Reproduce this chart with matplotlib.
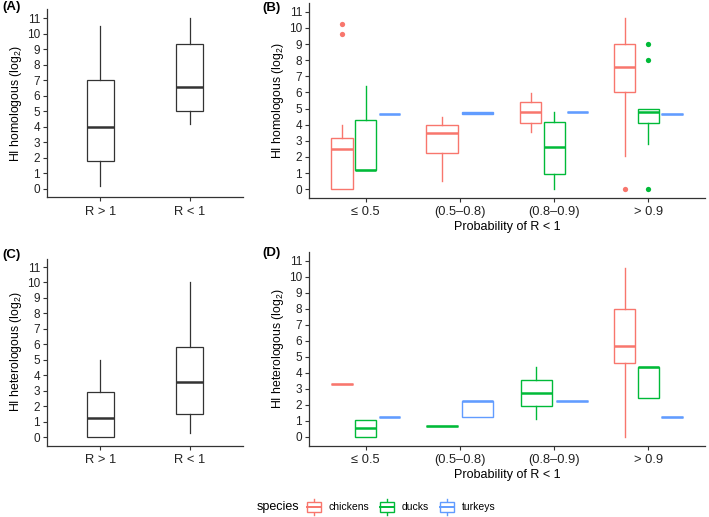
import matplotlib
matplotlib.use("Agg")
import matplotlib.pyplot as plt
from matplotlib.legend_handler import HandlerBase
from matplotlib.patches import Rectangle
from matplotlib.lines import Line2D

plt.rcParams['font.family'] = ['Liberation Sans', 'DejaVu Sans']

# ============================================================
# Data: (whislo, q1, median, q3, whishi, outliers)
# ============================================================
R_LABELS = ["R > 1", "R < 1"]
GROUPS = ["≤ 0.5", "(0.5–0.8)", "(0.8–0.9)", "> 0.9"]
SPECIES = ["chickens", "ducks", "turkeys"]
COLORS = ["#F8766D", "#00BA38", "#619CFF"]

A_stats = [(0.2, 1.8, 4.0, 7.0, 10.5, []),
           (4.2, 5.03, 6.54, 9.35, 11.0, [])]
C_stats = [(0.0, 0.0, 1.23, 2.89, 4.98, []),
           (0.24, 1.49, 3.54, 5.83, 10.0, [])]

B_chickens = [(0.0, 0.0, 2.5, 3.17, 3.97, [9.6, 10.22]),
              (0.5, 2.26, 3.5, 3.97, 4.49, []),
              (3.52, 4.12, 4.76, 5.38, 5.98, []),
              (2.03, 6.0, 7.56, 9.0, 10.6, [0.0])]
B_ducks = [(1.18, 1.18, 1.18, 4.27, 6.4, []),
           None,
           (0.0, 0.91, 2.61, 4.18, 4.76, []),
           (2.8, 4.08, 4.8, 4.99, 4.99, [0.0, 8.0, 9.0])]
B_turkeys = [(4.64, 4.64, 4.64, 4.64, 4.64, []),
             (4.64, 4.64, 4.7, 4.78, 4.78, []),
             (4.76, 4.76, 4.76, 4.76, 4.76, []),
             (4.64, 4.64, 4.64, 4.64, 4.64, [])]

D_chickens = [(3.28, 3.28, 3.28, 3.28, 3.28, []),
              None,
              None,
              (0.0, 4.59, 5.69, 7.99, 10.58, [])]
D_ducks = [(0.0, 0.0, 0.52, 1.06, 1.06, []),
           (0.67, 0.67, 0.67, 0.67, 0.67, []),
           (1.1, 1.89, 2.74, 3.55, 4.34, []),
           (2.45, 2.45, 4.38, 4.38, 4.38, [])]
D_turkeys = [(1.21, 1.21, 1.21, 1.21, 1.21, []),
             (1.21, 1.21, 2.22, 2.22, 2.22, []),
             (2.22, 2.22, 2.22, 2.22, 2.22, []),
             (1.21, 1.21, 1.21, 1.21, 1.21, [])]

AXIS_COL = "#333333"
W, H = 709, 517


def to_stat(t):
    lo, q1, med, q3, hi, fl = t
    return dict(whislo=lo, q1=q1, med=med, q3=q3, whishi=hi, fliers=fl)


def px_axes(fig, left, top, right, bottom):
    return fig.add_axes([left / W, 1 - bottom / H, (right - left) / W, (bottom - top) / H])


def style_axes(ax, xlabels, ylabel, xlabel=None):
    for s in ["top", "right"]:
        ax.spines[s].set_visible(False)
    for s in ["left", "bottom"]:
        ax.spines[s].set_color(AXIS_COL)
        ax.spines[s].set_linewidth(0.9)
    ax.set_ylim(-0.55, 11.55)
    ax.set_yticks(range(0, 12))
    ax.set_xlim(0.4, len(xlabels) + 0.6)
    ax.set_xticks(range(1, len(xlabels) + 1))
    ax.set_xticklabels(xlabels, fontsize=9.3, color="#222222")
    ax.tick_params(axis="y", labelsize=8.5, labelcolor="#222222", length=3,
                   width=0.8, color=AXIS_COL, pad=2)
    ax.tick_params(axis="x", length=3, width=0.8, color=AXIS_COL, pad=3)
    ax.set_ylabel(ylabel, fontsize=8.8, labelpad=2)
    if xlabel:
        ax.set_xlabel(xlabel, fontsize=9, labelpad=2)


def draw_simple(ax, stats):
    ax.bxp([to_stat(s) for s in stats], positions=[1, 2], widths=0.31,
           showcaps=False, patch_artist=True,
           boxprops=dict(facecolor="white", edgecolor=AXIS_COL, linewidth=0.9),
           whiskerprops=dict(color=AXIS_COL, linewidth=0.9),
           medianprops=dict(color=AXIS_COL, linewidth=1.8),
           flierprops=dict(marker="o", markersize=3.5, markerfacecolor=AXIS_COL,
                           markeredgecolor="none"))


def draw_dodged(ax, per_species):
    for g in range(len(GROUPS)):
        present = [k for k in range(len(SPECIES)) if per_species[k][g] is not None]
        n = len(present)
        slot = 0.75 / n
        for i, k in enumerate(present):
            pos = (g + 1) - 0.375 + slot * (i + 0.5)
            col = COLORS[k]
            ax.bxp([to_stat(per_species[k][g])], positions=[pos], widths=slot * 0.9,
                   showcaps=False, patch_artist=True,
                   boxprops=dict(facecolor="white", edgecolor=col, linewidth=1.0),
                   whiskerprops=dict(color=col, linewidth=1.0),
                   medianprops=dict(color=col, linewidth=1.8),
                   flierprops=dict(marker="o", markersize=3.8, markerfacecolor=col,
                                   markeredgecolor="none"))


class BoxHandler(HandlerBase):
    def create_artists(self, legend, orig_handle, xdescent, ydescent, width, height,
                       fontsize, trans):
        col = orig_handle.get_edgecolor()
        bw = width * 0.85
        x0 = xdescent + (width - bw) / 2
        bh = height * 0.95
        y0 = -ydescent + (height - bh) / 2 - height * 0.05
        rect = Rectangle((x0, y0), bw, bh, facecolor="white", edgecolor=col,
                         linewidth=1.0, transform=trans)
        ym = y0 + bh / 2
        med = Line2D([x0, x0 + bw], [ym, ym], color=col, linewidth=1.4, transform=trans)
        xc = x0 + bw / 2
        w1 = Line2D([xc, xc], [y0 + bh, y0 + bh + height * 0.35], color=col,
                    linewidth=1.0, transform=trans)
        w2 = Line2D([xc, xc], [y0, y0 - height * 0.35], color=col,
                    linewidth=1.0, transform=trans)
        return [w1, w2, rect, med]


fig = plt.figure(figsize=(W / 100, H / 100), dpi=100)

axA = px_axes(fig, 47, 9.5, 243, 197.5)
draw_simple(axA, A_stats)
style_axes(axA, R_LABELS, "HI homologous (log$_{\\mathregular{2}}$)")

axB = px_axes(fig, 309, 3, 705, 198)
draw_dodged(axB, [B_chickens, B_ducks, B_turkeys])
style_axes(axB, GROUPS, "HI homologous (log$_{\\mathregular{2}}$)", "Probability of R < 1")

axC = px_axes(fig, 47, 258.5, 243, 445.5)
draw_simple(axC, C_stats)
style_axes(axC, R_LABELS, "HI heterologous (log$_{\\mathregular{2}}$)")

axD = px_axes(fig, 309, 252, 705, 445.5)
draw_dodged(axD, [D_chickens, D_ducks, D_turkeys])
style_axes(axD, GROUPS, "HI heterologous (log$_{\\mathregular{2}}$)", "Probability of R < 1")

for lab, x, y in [("(A)", 2, 7), ("(B)", 262, 8), ("(C)", 2, 255), ("(D)", 262, 253)]:
    fig.text(x / W, 1 - y / H, lab, fontsize=9.5, fontweight="bold", va="center", ha="left")

# legend at the bottom
fig.text(257 / W, 1 - 507 / H, "species", fontsize=9, va="center", ha="left")
handles = [Rectangle((0, 0), 1, 1, facecolor="white", edgecolor=c) for c in COLORS]
fig.legend(handles, SPECIES, loc="center left", bbox_to_anchor=(306 / W, 1 - 507 / H),
           ncol=3, frameon=False, fontsize=7.5, handlelength=1.6, handleheight=1.1,
           handletextpad=0.6, columnspacing=0.9, borderpad=0, borderaxespad=0,
           handler_map={Rectangle: BoxHandler()})

fig.savefig("out.png", dpi=100)
